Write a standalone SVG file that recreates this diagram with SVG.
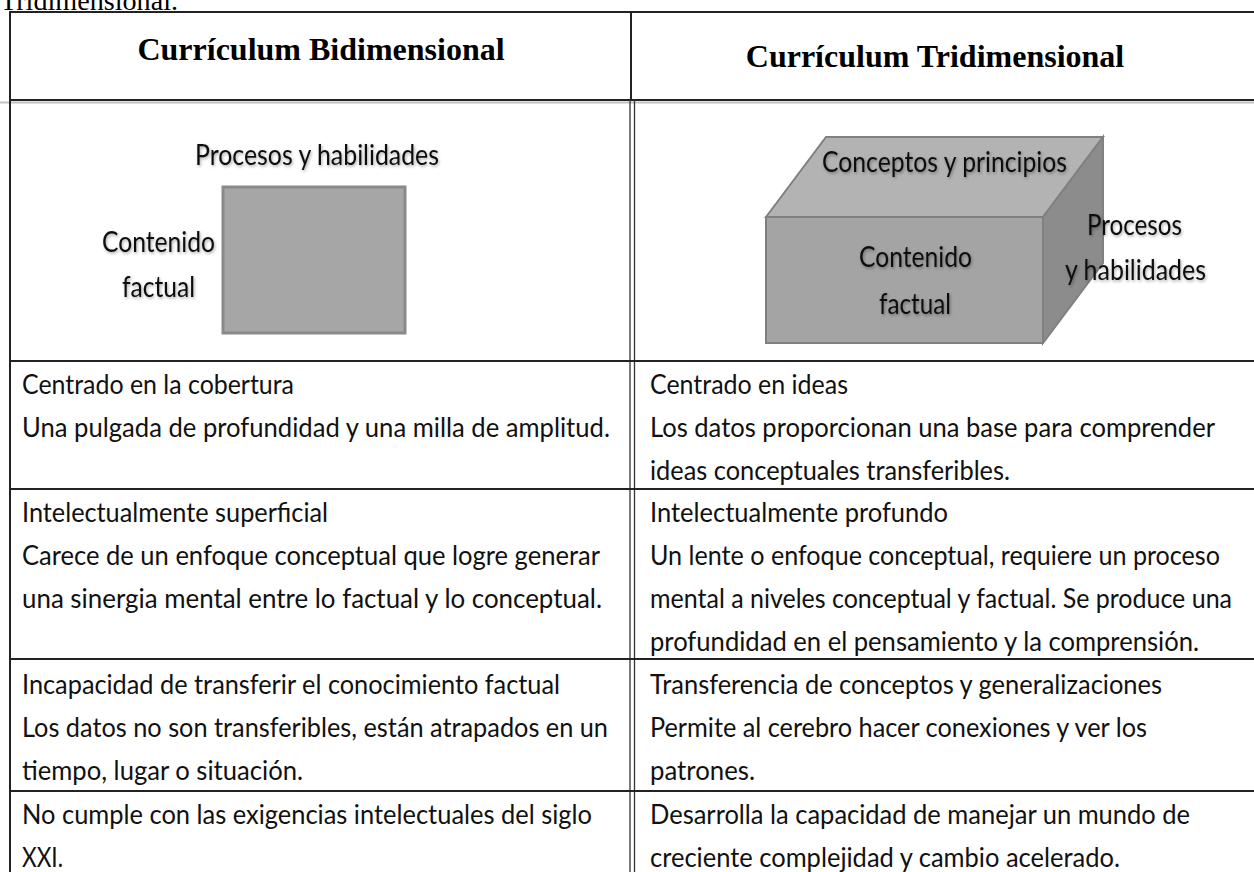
<svg xmlns="http://www.w3.org/2000/svg" width="1254" height="872" viewBox="0 0 1254 872">
<defs>
<style>
.hd{font-family:"Liberation Serif","Times New Roman",serif;font-weight:bold;font-size:32px;fill:#000;text-anchor:middle}
.cap{font-family:"Liberation Serif","Times New Roman",serif;font-size:28px;fill:#000}
.tx{font-family:Lato,"Noto Sans","Liberation Sans",sans-serif;font-size:26px;fill:#111}
.lb{font-family:Lato,"Noto Sans","Liberation Sans",sans-serif;font-size:29px;fill:#111}
.rule{stroke:#222;stroke-width:2;fill:none}
.thin{stroke:#333;stroke-width:1.3;fill:none}
</style>
<filter id="sh" x="-10%" y="-30%" width="120%" height="160%">
<feDropShadow dx="1" dy="1.5" stdDeviation="1.5" flood-color="#000" flood-opacity="0.35"/>
</filter>
</defs>
<rect width="1254" height="872" fill="#fff"/>
<text class="cap" x="0" y="10" textLength="178" lengthAdjust="spacingAndGlyphs">Tridimensional.</text>

<g id="connectors">
<line x1="0" y1="102.5" x2="1254" y2="102.5" stroke="#999" stroke-width="2" opacity="0.6"/>
<line class="rule" x1="9" y1="12" x2="1254" y2="12"/>
<line class="rule" x1="9" y1="100" x2="1254" y2="100" stroke-width="2.5"/>
<line class="rule" x1="10" y1="11" x2="10" y2="872"/>
<line class="rule" x1="631" y1="12" x2="631" y2="100"/>
<line class="thin" x1="630" y1="100" x2="630" y2="872"/>
<line class="thin" x1="634.5" y1="100" x2="634.5" y2="872"/>
<line class="rule" x1="10" y1="361" x2="1254" y2="361"/>
<line class="rule" x1="10" y1="489" x2="1254" y2="489"/>
<line class="rule" x1="10" y1="659" x2="1254" y2="659"/>
<line class="rule" x1="10" y1="791" x2="1254" y2="791"/>
</g>

<g id="header-bi"><text class="hd" x="321" y="60">Currículum Bidimensional</text></g>
<g id="header-tri"><text class="hd" x="935" y="67">Currículum Tridimensional</text></g>

<g id="diagram-2d">
<rect x="223" y="187" width="182" height="146" fill="#a6a6a6" stroke="#8a8a8a" stroke-width="3"/>
<g filter="url(#sh)">
<text class="lb" x="195" y="165" textLength="244" lengthAdjust="spacingAndGlyphs">Procesos y habilidades</text>
<text class="lb" x="102" y="252" textLength="113" lengthAdjust="spacingAndGlyphs">Contenido</text>
<text class="lb" x="122" y="297" textLength="73" lengthAdjust="spacingAndGlyphs">factual</text>
</g>
</g>

<g id="diagram-3d">
<polygon points="766,217 826,137 1103,137 1043,217" fill="#b3b3b3" stroke="#808080" stroke-width="2"/>
<polygon points="1043,217 1103,137 1103,263 1043,343" fill="#8c8c8c" stroke="#808080" stroke-width="2"/>
<rect x="766" y="217" width="277" height="126" fill="#a4a4a4" stroke="#808080" stroke-width="2"/>
<g filter="url(#sh)">
<text class="lb" x="822" y="172" textLength="245" lengthAdjust="spacingAndGlyphs">Conceptos y principios</text>
<text class="lb" x="859" y="267" textLength="113" lengthAdjust="spacingAndGlyphs">Contenido</text>
<text class="lb" x="879" y="314" textLength="72" lengthAdjust="spacingAndGlyphs">factual</text>
<text class="lb" x="1087" y="235" textLength="95" lengthAdjust="spacingAndGlyphs">Procesos</text>
<text class="lb" x="1065" y="280" textLength="141" lengthAdjust="spacingAndGlyphs">y habilidades</text>
</g>
</g>

<g id="row1-left">
<text class="tx" x="22" y="394" textLength="272" lengthAdjust="spacingAndGlyphs">Centrado en la cobertura</text>
<text class="tx" x="22" y="437" textLength="588" lengthAdjust="spacingAndGlyphs">Una pulgada de profundidad y una milla de amplitud.</text>
</g>
<g id="row1-right">
<text class="tx" x="650" y="394" textLength="198" lengthAdjust="spacingAndGlyphs">Centrado en ideas</text>
<text class="tx" x="650" y="437" textLength="565" lengthAdjust="spacingAndGlyphs">Los datos proporcionan una base para comprender</text>
<text class="tx" x="650" y="480" textLength="360" lengthAdjust="spacingAndGlyphs">ideas conceptuales transferibles.</text>
</g>

<g id="row2-left">
<text class="tx" x="22" y="522" textLength="306" lengthAdjust="spacingAndGlyphs">Intelectualmente superficial</text>
<text class="tx" x="22" y="565" textLength="578" lengthAdjust="spacingAndGlyphs">Carece de un enfoque conceptual que logre generar</text>
<text class="tx" x="22" y="608" textLength="580" lengthAdjust="spacingAndGlyphs">una sinergia mental entre lo factual y lo conceptual.</text>
</g>
<g id="row2-right">
<text class="tx" x="650" y="522" textLength="298" lengthAdjust="spacingAndGlyphs">Intelectualmente profundo</text>
<text class="tx" x="650" y="565" textLength="570" lengthAdjust="spacingAndGlyphs">Un lente o enfoque conceptual, requiere un proceso</text>
<text class="tx" x="650" y="608" textLength="582" lengthAdjust="spacingAndGlyphs">mental a niveles conceptual y factual. Se produce una</text>
<text class="tx" x="650" y="651" textLength="549" lengthAdjust="spacingAndGlyphs">profundidad en el pensamiento y la comprensión.</text>
</g>

<g id="row3-left">
<text class="tx" x="22" y="694" textLength="538" lengthAdjust="spacingAndGlyphs">Incapacidad de transferir el conocimiento factual</text>
<text class="tx" x="22" y="737" textLength="586" lengthAdjust="spacingAndGlyphs">Los datos no son transferibles, están atrapados en un</text>
<text class="tx" x="22" y="780" textLength="281" lengthAdjust="spacingAndGlyphs">tiempo, lugar o situación.</text>
</g>
<g id="row3-right">
<text class="tx" x="650" y="694" textLength="512" lengthAdjust="spacingAndGlyphs">Transferencia de conceptos y generalizaciones</text>
<text class="tx" x="650" y="737" textLength="497" lengthAdjust="spacingAndGlyphs">Permite al cerebro hacer conexiones y ver los</text>
<text class="tx" x="650" y="780" textLength="105" lengthAdjust="spacingAndGlyphs">patrones.</text>
</g>

<g id="row4-left">
<text class="tx" x="22" y="824" textLength="570" lengthAdjust="spacingAndGlyphs">No cumple con las exigencias intelectuales del siglo</text>
<text class="tx" x="22" y="867" textLength="41" lengthAdjust="spacingAndGlyphs">XXI.</text>
</g>
<g id="row4-right">
<text class="tx" x="650" y="824" textLength="540" lengthAdjust="spacingAndGlyphs">Desarrolla la capacidad de manejar un mundo de</text>
<text class="tx" x="650" y="867" textLength="470" lengthAdjust="spacingAndGlyphs">creciente complejidad y cambio acelerado.</text>
</g>
</svg>
